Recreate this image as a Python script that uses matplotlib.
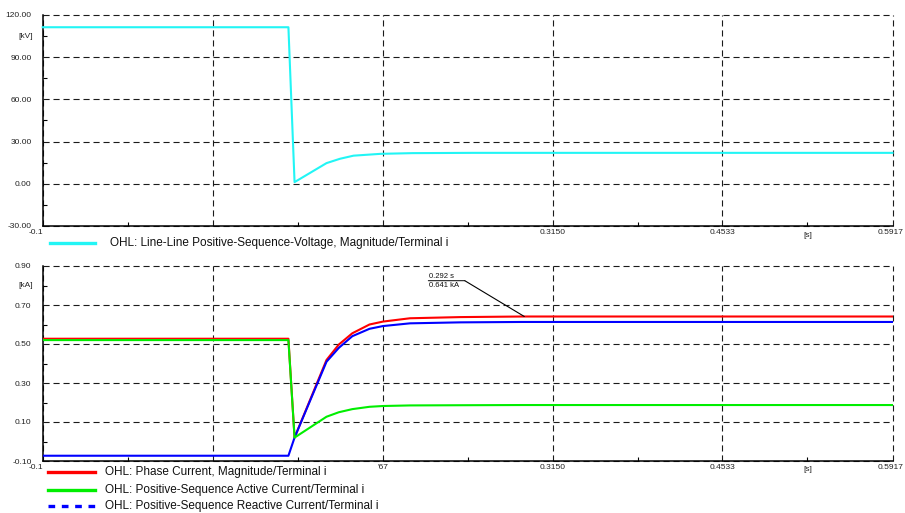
import matplotlib
matplotlib.use("Agg")
import matplotlib.pyplot as plt
from matplotlib.lines import Line2D
from matplotlib.transforms import blended_transform_factory, offset_copy

plt.rcParams['font.family'] = ['Liberation Sans', 'DejaVu Sans']

# ---------------- data ----------------
x_ticks = [-0.1, 0.0383, 0.1767, 0.3150, 0.4533, 0.5917]
x_min, x_max = -0.1, 0.5917

v_ticks = [-30, 0, 30, 60, 90, 120]
v_tick_labels = ["-30.00", "0.00", "30.00", "60.00", "90.00", "120.00"]
i_ticks = [-0.10, 0.10, 0.30, 0.50, 0.70, 0.90]
i_tick_labels = ["-0.10", "0.10", "0.30", "0.50", "0.70", "0.90"]

t_v = [-0.1, 0.1, 0.105, 0.131, 0.142, 0.153, 0.175, 0.201, 0.25, 0.5917]
voltage = [111.3, 111.3, 1.2, 14.7, 17.8, 20.0, 21.3, 21.8, 22.0, 22.0]

t_i = [-0.1, 0.1, 0.105, 0.131, 0.141, 0.152, 0.166, 0.177, 0.199, 0.24, 0.29, 0.5917]
phase_current = [0.527, 0.527, 0.02, 0.418, 0.497, 0.555, 0.600, 0.615, 0.632, 0.638, 0.641, 0.641]
active_current = [0.520, 0.520, 0.02, 0.127, 0.150, 0.166, 0.178, 0.182, 0.185, 0.186, 0.187, 0.187]
reactive_current = [-0.073, -0.073, 0.02, 0.409, 0.480, 0.540, 0.578, 0.592, 0.606, 0.611, 0.613, 0.613]

ann_t, ann_v = 0.292, 0.641
ann_labels = ["0.292 s", "0.641 kA"]

legend_top = ["OHL: Line-Line Positive-Sequence-Voltage, Magnitude/Terminal i"]
legend_bottom = ["OHL: Phase Current, Magnitude/Terminal i",
                 "OHL: Positive-Sequence Active Current/Terminal i",
                 "OHL: Positive-Sequence Reactive Current/Terminal i"]

# ---------------- figure ----------------
W, H = 905, 513
fig = plt.figure(figsize=(W / 100, H / 100), dpi=100)


def fx(x):
    return x / W


def fy(y):
    return 1 - y / H


ax_left, ax_right = 42.7, 892.5
ax1 = fig.add_axes([fx(ax_left), fy(226), fx(ax_right) - fx(ax_left), fy(15) - fy(226)])
ax2 = fig.add_axes([fx(ax_left), fy(461), fx(ax_right) - fx(ax_left), fy(266) - fy(461)])

grid_kw = dict(color='#1a1a1a', linewidth=0.8, linestyle=(0, (5.5, 3.5)))
lab_color = '#222222'
fs_tick = 6


def style_axes(ax, yticks, ylabels, ymin, ymax, unit, unit_y, xlabels):
    ax.set_xlim(x_min, x_max)
    ax.set_ylim(ymin, ymax)
    for s in ['top', 'right']:
        ax.spines[s].set_visible(False)
    for s in ['left', 'bottom']:
        ax.spines[s].set_linewidth(1.1)
        ax.spines[s].set_color('black')
    ax.set_yticks(yticks)
    ax.set_yticklabels(ylabels, fontsize=fs_tick, color=lab_color)
    ax.set_xticks(x_ticks)
    ax.set_xticklabels(xlabels, fontsize=fs_tick, color=lab_color)
    ymid = [(yticks[k] + yticks[k + 1]) / 2 for k in range(len(yticks) - 1)]
    xmid = [(x_ticks[k] + x_ticks[k + 1]) / 2 for k in range(len(x_ticks) - 1)]
    ax.set_yticks(ymid, minor=True)
    ax.set_xticks(xmid, minor=True)
    ax.tick_params(which='major', length=0, pad=8)
    ax.tick_params(axis='x', which='major', pad=2)
    ax.tick_params(which='minor', length=3, direction='in', width=0.8, color='black')
    ax.grid(True, which='major', **grid_kw)
    for gl in ax.get_xgridlines() + ax.get_ygridlines():
        gl.set_clip_on(False)
    ax.set_axisbelow(True)
    tr = blended_transform_factory(ax.transAxes, ax.transData)
    ax.text(-0.012, unit_y, unit, transform=tr, ha='right', va='center',
            fontsize=fs_tick, color=lab_color)
    trx = blended_transform_factory(ax.transData, ax.transAxes)
    ax.text((x_ticks[4] + x_ticks[5]) / 2, -0.027, "[s]", transform=trx,
            ha='center', va='top', fontsize=fs_tick, color=lab_color)
    lbls = ax.get_xticklabels()
    lbls[0].set_transform(lbls[0].get_transform() +
                          offset_copy(fig.transFigure, fig=fig, x=0, y=0, units='dots').inverted()
                          + offset_copy(fig.transFigure, fig=fig, x=-7, y=0, units='dots'))
    lbls[-1].set_transform(lbls[-1].get_transform() +
                           offset_copy(fig.transFigure, fig=fig, x=0, y=0, units='dots').inverted()
                           + offset_copy(fig.transFigure, fig=fig, x=-2, y=0, units='dots'))


top_xlabels = ["-0.1", "", "", "0.3150", "0.4533", "0.5917"]
bot_xlabels = ["-0.1", "", "'67", "0.3150", "0.4533", "0.5917"]

style_axes(ax1, v_ticks, v_tick_labels, -30, 120, "[kV]", 105, top_xlabels)
style_axes(ax2, i_ticks, i_tick_labels, -0.10, 0.90, "[kA]", 0.80, bot_xlabels)

c_v = '#22F5F5'
c_r = '#FF0000'
c_g = '#00EE00'
c_b = '#0000FF'

ax1.plot(t_v, voltage, color=c_v, lw=1.5, zorder=3, clip_on=False)

ax2.plot(t_i, phase_current, color=c_r, lw=1.5, zorder=3)
ax2.plot(t_i, active_current, color=c_g, lw=1.5, zorder=4)
ax2.plot(t_i, reactive_current, color=c_b, lw=1.5, zorder=3.5)

# annotation
ax2.annotate("", xy=(ann_t, ann_v), xytext=(-59.5, 35.8), textcoords='offset pixels',
             arrowprops=dict(arrowstyle='-', lw=0.8, color='black', shrinkA=0, shrinkB=0))
tA = offset_copy(ax2.transData, fig=fig, x=-96, y=35.8, units='dots')
tB = offset_copy(ax2.transData, fig=fig, x=-59.5, y=35.8, units='dots')
ax2.annotate("", xy=(ann_t, ann_v), xycoords=tA, xytext=(ann_t, ann_v), textcoords=tB,
             arrowprops=dict(arrowstyle='-', lw=0.7, color='black', shrinkA=0, shrinkB=0),
             annotation_clip=False)
ax2.annotate(ann_labels[0], xy=(ann_t, ann_v), xytext=(-95, 36.8),
             textcoords='offset pixels', fontsize=5.5, ha='left', va='bottom',
             color='#111111')
ax2.annotate(ann_labels[1], xy=(ann_t, ann_v), xytext=(-95, 34.8),
             textcoords='offset pixels', fontsize=5.5, ha='left', va='top',
             color='#111111')

# ---------------- legends ----------------
fs_leg = 8.5
fig.add_artist(Line2D([fx(50), fx(95)], [fy(243), fy(243)], color=c_v, lw=2.4))
fig.text(fx(110), fy(243), legend_top[0], fontsize=fs_leg, va='center', ha='left', color='#111111')

leg_cols = [c_r, c_g, c_b]
leg_ys = [472, 489.5, 506]
for k in range(3):
    ls = '-' if k < 2 else (0, (2.0, 2.0))
    fig.add_artist(Line2D([fx(48), fx(95)], [fy(leg_ys[k]), fy(leg_ys[k])],
                          color=leg_cols[k], lw=2.4, linestyle=ls))
    fig.text(fx(105), fy(leg_ys[k]), legend_bottom[k], fontsize=fs_leg, va='center',
             ha='left', color='#111111')

fig.savefig("out.png", dpi=100)
